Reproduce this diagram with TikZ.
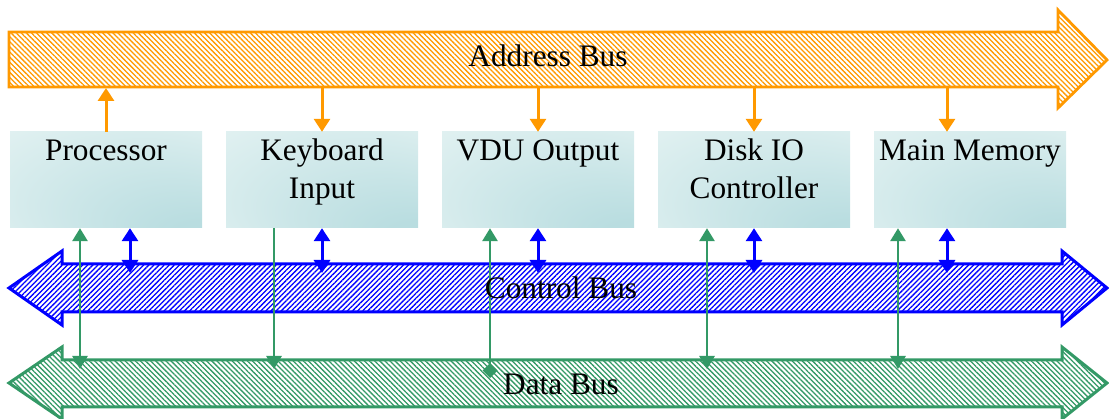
\documentclass[tikz,border=0pt]{standalone}
\usepackage{fontspec}
\setmainfont{Liberation Serif}
\usetikzlibrary{arrows.meta,patterns.meta,calc}

\definecolor{addrc}{HTML}{FF9900}
\definecolor{ctrlc}{HTML}{0000FF}
\definecolor{datac}{HTML}{339966}
\definecolor{unitdark}{HTML}{B9DDE0}
\definecolor{unitlight}{HTML}{E3F2F2}

% soft cyan fill, darkest towards the lower right corner
\pgfdeclareradialshading{unitshade}{\pgfpoint{30bp}{-35bp}}{%
  color(0bp)=(unitdark); color(8bp)=(unitdark); color(45bp)=(unitlight); color(50bp)=(unitlight)}

\tikzset{
  unit/.style={shade, shading=unitshade, minimum width=192pt, minimum height=96pt, inner sep=0pt},
  unitlabel/.style={anchor=north, inner sep=0pt, align=center,
    font=\fontsize{31.3pt}{37.5pt}\selectfont},
  buslabel/.style={anchor=base, inner sep=0pt, font=\fontsize{31.3pt}{37.5pt}\selectfont},
  addrbus/.style={draw=addrc, line width=2.8pt, pattern color=addrc,
    pattern={Lines[angle=-45,distance=3.6pt,line width=1.3pt]}},
  ctrlbus/.style={draw=ctrlc, line width=3pt, pattern color=ctrlc,
    pattern={Lines[angle=45,distance=3.6pt,line width=1.3pt]}},
  databus/.style={draw=datac, line width=3pt, pattern color=datac,
    pattern={Lines[angle=-45,distance=3.6pt,line width=1.3pt]}},
  addrtap/.style={draw=addrc, line width=3pt, -{Triangle[length=13pt,width=16pt]}},
  ctrltap/.style={draw=ctrlc, line width=3pt, {Triangle[length=13pt,width=16pt]}-{Triangle[length=13pt,width=16pt]}},
  datatap/.style={draw=datac, line width=2.8pt, {Triangle[length=13pt,width=15pt]}-{Triangle[length=13pt,width=15pt]}},
  dataout/.style={draw=datac, line width=2.8pt, -{Triangle[length=13pt,width=15pt]}},
  datadia/.style={draw=datac, line width=2.8pt, {Triangle[length=13pt,width=15pt]}-{Diamond[length=15pt,width=15pt]}},
}

\begin{document}
\begin{tikzpicture}[x=1pt, y=-1pt]
\useasboundingbox (0,0) rectangle (1109,419);

% the three buses
\path[addrbus] (9,32) -- (1058,32) -- (1058,10) -- (1107,60) -- (1058,108) -- (1058,87) -- (9,87) -- cycle;
\path[ctrlbus] (9,288) -- (62,251) -- (62,264) -- (1062,264) -- (1062,251) -- (1107,288)
  -- (1062,325) -- (1062,312) -- (62,312) -- (62,325) -- cycle;
\path[databus] (9,383) -- (62,347) -- (62,360) -- (1062,360) -- (1062,347) -- (1107,383)
  -- (1062,419) -- (1062,407) -- (62,407) -- (62,419) -- cycle;

% where the taps meet the buses
\coordinate (abus) at (0,88);
\coordinate (cbus) at (0,273);
\coordinate (dbus) at (0,369);
\coordinate (ddia) at (0,378);

% units
\node[unit] (proc) at (106,180) {};
\node[unit] (kbd)  at (322,180) {};
\node[unit] (vdu)  at (538,180) {};
\node[unit] (disk) at (754,180) {};
\node[unit] (mem)  at (970,180) {};

% address bus taps
\draw[addrtap] (proc.north) -- (proc.north |- abus);
\draw[addrtap] (kbd.north |- abus) -- (kbd.north);
\draw[addrtap] (vdu.north |- abus) -- (vdu.north);
\draw[addrtap] (disk.north |- abus) -- (disk.north);
\draw[addrtap] ($(mem.north |- abus)+(-23,0)$) -- ($(mem.north)+(-23,0)$);

% control bus taps
\draw[ctrltap] ($(proc.south)+(24,0)$) -- ($(proc.south |- cbus)+(24,0)$);
\draw[ctrltap] (kbd.south) -- (kbd.south |- cbus);
\draw[ctrltap] (vdu.south) -- (vdu.south |- cbus);
\draw[ctrltap] (disk.south) -- (disk.south |- cbus);
\draw[ctrltap] ($(mem.south)+(-23,0)$) -- ($(mem.south |- cbus)+(-23,0)$);

% data bus taps
\draw[datatap] ($(proc.south)+(-26,0)$) -- ($(proc.south |- dbus)+(-26,0)$);
\draw[dataout] ($(kbd.south)+(-48,0)$) -- ($(kbd.south |- dbus)+(-48,0)$);
\draw[datadia] ($(vdu.south)+(-48,0)$) -- ($(vdu.south |- ddia)+(-48,0)$);
\draw[datatap] ($(disk.south)+(-47,0)$) -- ($(disk.south |- dbus)+(-47,0)$);
\draw[datatap] ($(mem.south)+(-72,0)$) -- ($(mem.south |- dbus)+(-72,0)$);

% unit names
\node[unitlabel] (proct) at (106,140) {Processor};
\node[unitlabel] (kbdt)  at (322,139) {Keyboard\\Input};
\node[unitlabel] (vdut)  at (538,140) {VDU Output};
\node[unitlabel] (diskt) at (754,139) {Disk IO\\Controller};
\node[unitlabel] (memt)  at (970,140) {Main Memory};

% bus names
\node[buslabel] (abust) at (548,67) {Address Bus};
\node[buslabel] (cbust) at (561,299) {Control Bus};
\node[buslabel] (dbust) at (561,395) {Data Bus};
\end{tikzpicture}
\end{document}
